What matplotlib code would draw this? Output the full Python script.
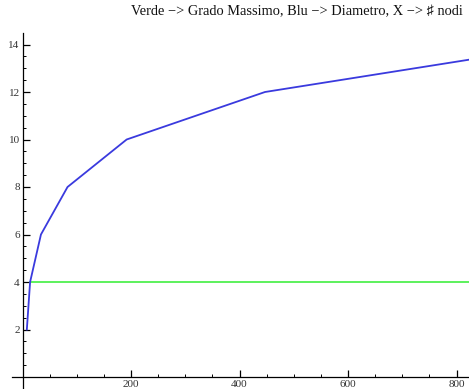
import matplotlib
matplotlib.use("Agg")
import matplotlib.pyplot as plt
from matplotlib.ticker import FixedLocator

# Data
nodes = [8, 14, 34, 83, 192, 447, 1000]
diameter = [2, 4, 6, 8, 10, 12, 14]
max_degree = [4, 4, 4, 4, 4, 4, 4]
green_nodes = [14, 34, 83, 192, 447, 1000, 1000]

x_major = [200, 400, 600, 800]
y_major = [2, 4, 6, 8, 10, 12, 14]
x_minor = [m for m in range(50, 851, 50) if m % 200]
y_minor = [v / 2 for v in range(1, 29) if v % 4]
title = "Verde \u2212> Grado Massimo, Blu \u2212> Diametro, X \u2212> \u266F nodi"

plt.rcParams['font.family'] = ['Liberation Serif', 'DejaVu Serif', 'DejaVu Sans', 'Noto Sans']

fig = plt.figure(figsize=(4.69, 3.89), dpi=100)
ax = fig.add_axes([0, 0, 1, 1])

ax.plot(green_nodes, max_degree, color='#4ff04f', lw=1.3, zorder=2)
ax.plot(nodes, diameter, color='#3a3ade', lw=1.3, zorder=3)

# pixel mapping: x0 at 22.5px, 0.5425 px/unit ; y0 at 377px, 23.75 px/unit
ax.set_xlim(-22.5 / 0.5425, (469 - 22.5) / 0.5425)
ax.set_ylim(-12 / 23.75, 389 / 23.75 - 12 / 23.75)

for s in ['top', 'right']:
    ax.spines[s].set_visible(False)
ax.spines['left'].set_position(('data', 0))
ax.spines['bottom'].set_position(('data', 0))
ax.spines['left'].set_bounds(-0.6, 14.5)
ax.spines['bottom'].set_bounds(-19.5, 830)
ax.spines['left'].set_linewidth(0.9)
ax.spines['bottom'].set_linewidth(0.9)

ax.xaxis.set_major_locator(FixedLocator(x_major))
ax.yaxis.set_major_locator(FixedLocator(y_major))
ax.xaxis.set_minor_locator(FixedLocator(x_minor))
ax.yaxis.set_minor_locator(FixedLocator(y_minor))
ax.tick_params(axis='both', which='major', direction='in', length=5, width=0.9,
               labelsize=8, labelcolor='#333333', pad=2)
ax.tick_params(axis='both', which='minor', direction='in', length=2.5, width=0.7)

fig.text(131 / 469, 1 - 12 / 389, title, ha='left', va='center', fontsize=10.4,
         color='#111111')

fig.savefig("out.png", dpi=100)
